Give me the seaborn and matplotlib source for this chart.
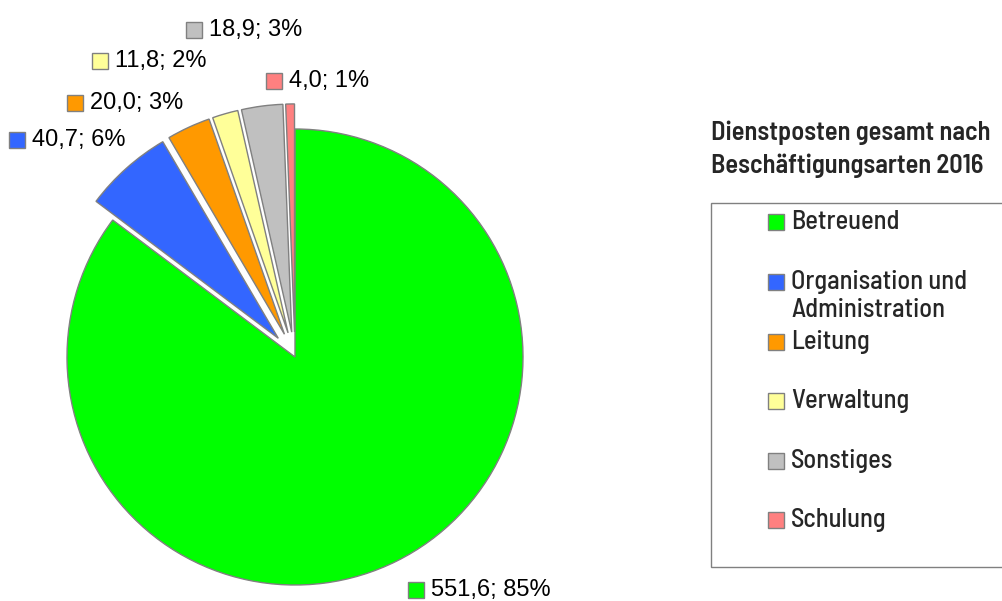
import matplotlib
matplotlib.use("Agg")
import matplotlib.pyplot as plt
from matplotlib.patches import Rectangle
import seaborn as sns

categories = ["Betreuend", "Organisation und\nAdministration", "Leitung",
              "Verwaltung", "Sonstiges", "Schulung"]
values = [551.6, 40.7, 20.0, 11.8, 18.9, 4.0]
colors = ["#00ff00", "#3366ff", "#ff9900", "#ffff99", "#c0c0c0", "#ff8080"]
title = "Dienstposten gesamt nach\nBeschäftigungsarten 2016"

sns.set_style("white")
plt.rcParams["font.family"] = ["Liberation Sans", "DejaVu Sans"]
narrow = ["Barlow Semi Condensed", "Archivo Narrow", "DejaVu Sans"]

W, H = 1003, 601
fig = plt.figure(figsize=(W / 100, H / 100), dpi=100)
# pie geometry in pixel space: center and radius
cx, cy, R = 295, 357, 228
ax = fig.add_axes([0, 0, 1, 1])
ax.axis("off")

explode = [0.0] + [0.11] * (len(values) - 1)
ax.pie(values, colors=colors, startangle=90, counterclock=False,
       explode=explode, radius=1.0, center=(0, 0), frame=False,
       wedgeprops=dict(edgecolor="#808080", linewidth=1.0))
ax.set_xlim(-cx / R, (W - cx) / R)
ax.set_ylim(-(H - cy) / R, cy / R)
ax.set_aspect("equal")

total = sum(values)
# label anchor (square centre) positions in pixel coords
label_pos = [(416, 590), (17, 140), (75, 103), (100, 61), (194, 30), (274, 81)]
for v, c, (px, py) in zip(values, colors, label_pos):
    x = (px - cx) / R
    y = (cy - py) / R
    ax.add_patch(Rectangle((x - 8 / R, y - 8 / R), 16 / R, 16 / R,
                           facecolor=c, edgecolor="#808080", linewidth=1.0, zorder=5))
    txt = f"{v:.1f}".replace(".", ",") + f"; {round(v / total * 100):.0f}%"
    ax.text(x + 15 / R, y, txt, fontsize=17, va="center", ha="left",
            color="#000000", zorder=5)

# title
fig.text(711 / W, 1 - 149 / H, title, fontsize=19, fontweight="semibold",
         family=narrow, va="center", ha="left", linespacing=1.42)

# legend frame
fig.patches.append(Rectangle((711 / W, 1 - 567 / H), (1010 - 711) / W, (567 - 203) / H,
                             transform=fig.transFigure, facecolor="white",
                             edgecolor="#808080", linewidth=1.0))
leg_y = [222, 282, 342, 401, 461, 520]
for lab, c, yy in zip(categories, colors, leg_y):
    fig.patches.append(Rectangle((768 / W, 1 - (yy + 8) / H), 16 / W, 16 / H,
                                 transform=fig.transFigure, facecolor=c,
                                 edgecolor="#808080", linewidth=1.0))
    if "\n" in lab:
        fig.text(791 / W, 1 - (yy - 12) / H, lab, fontsize=19, family=narrow,
                 fontweight="medium", va="top", ha="left", linespacing=1.22)
    else:
        fig.text(791 / W, 1 - yy / H, lab, fontsize=19, family=narrow,
                 fontweight="medium", va="center", ha="left")

fig.savefig("out.png", dpi=100)
